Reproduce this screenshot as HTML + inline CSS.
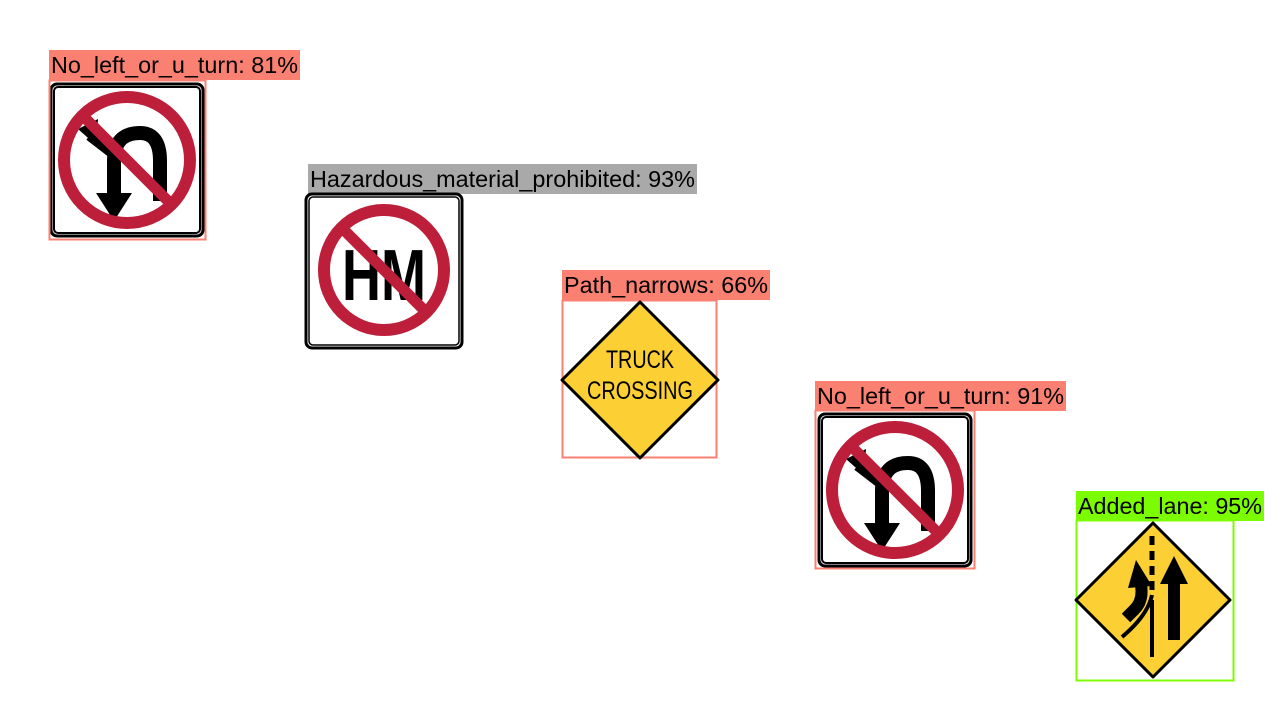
<!DOCTYPE html>
<html><head><style>body{margin:0;background:#fff}svg{display:block}text{font-family:"Liberation Sans",sans-serif;font-size:23px;fill:#000}</style></head><body>
<svg width="1280" height="720" viewBox="0 0 1280 720" xmlns="http://www.w3.org/2000/svg">
<defs>
<g id="nou">
<rect x="1" y="1" width="152" height="152" rx="6" fill="#fff" stroke="#000" stroke-width="3"/>
<rect x="4" y="4" width="146" height="146" rx="4" fill="none" stroke="#000" stroke-width="2"/>
<path d="M64 118 L64 78 Q64 50 90 50 Q110 50 110 78 L110 118" fill="none" stroke="#000" stroke-width="14"/>
<path d="M46 110 L82 110 L64 138 Z" fill="#000"/>
<path d="M66 72 L40 52" stroke="#000" stroke-width="12"/>
<path d="M28 46 L48 36 L46 62 Z" fill="#000"/>
<circle cx="77" cy="77" r="63" fill="none" stroke="#bd1e3a" stroke-width="12"/>
<line x1="33" y1="33" x2="121" y2="121" stroke="#bd1e3a" stroke-width="11"/>
</g>
</defs>
<!-- 1 -->
<rect x="49" y="50" width="251" height="30" fill="#fa8072"/>
<text x="51" y="73" textLength="247" lengthAdjust="spacingAndGlyphs">No_left_or_u_turn: 81%</text>
<use href="#nou" x="50" y="83"/>
<rect x="49.5" y="80.5" width="156" height="159" fill="none" stroke="#fa8072" stroke-width="2"/>
<!-- 2 -->
<rect x="308" y="164" width="389" height="30" fill="#a9a9a9"/>
<text x="310" y="187" textLength="385" lengthAdjust="spacingAndGlyphs">Hazardous_material_prohibited: 93%</text>
<rect x="306" y="194" width="156" height="154" rx="6" fill="#fff" stroke="#000" stroke-width="3"/>
<rect x="309" y="197" width="150" height="148" rx="4" fill="none" stroke="#000" stroke-width="1.5"/>
<text x="384" y="300" text-anchor="middle" textLength="84" lengthAdjust="spacingAndGlyphs" style="font-size:72px;font-weight:bold">HM</text>
<circle cx="384" cy="270" r="60" fill="none" stroke="#bd1e3a" stroke-width="12"/>
<line x1="342" y1="228" x2="426" y2="312" stroke="#bd1e3a" stroke-width="11"/>
<!-- 3 -->
<rect x="562" y="270" width="208" height="30" fill="#fa8072"/>
<text x="564" y="293" textLength="204" lengthAdjust="spacingAndGlyphs">Path_narrows: 66%</text>
<rect x="562.5" y="300.5" width="154" height="157" fill="none" stroke="#fa8072" stroke-width="2"/>
<path d="M640 302 L718 380 L640 458 L562 380 Z" fill="#fccf35" stroke="#000" stroke-width="3" stroke-linejoin="round"/>
<text x="640" y="368" text-anchor="middle" textLength="68" lengthAdjust="spacingAndGlyphs" style="font-size:25px">TRUCK</text>
<text x="640" y="399" text-anchor="middle" textLength="106" lengthAdjust="spacingAndGlyphs" style="font-size:25px">CROSSING</text>
<!-- 4 -->
<rect x="815" y="381" width="251" height="30" fill="#fa8072"/>
<text x="817" y="404" textLength="247" lengthAdjust="spacingAndGlyphs">No_left_or_u_turn: 91%</text>
<use href="#nou" x="818" y="413"/>
<rect x="815.5" y="410.5" width="159" height="158" fill="none" stroke="#fa8072" stroke-width="2"/>
<!-- 5 -->
<rect x="1076" y="491" width="188" height="30" fill="#7cfc00"/>
<text x="1078" y="514" textLength="184" lengthAdjust="spacingAndGlyphs">Added_lane: 95%</text>
<rect x="1076.5" y="520.5" width="157" height="160" fill="none" stroke="#7cfc00" stroke-width="2"/>
<path d="M1153 523 L1230 600 L1153 677 L1076 600 Z" fill="#fccf35" stroke="#000" stroke-width="3" stroke-linejoin="round"/>
<line x1="1152" y1="536" x2="1152" y2="590" stroke="#000" stroke-width="5" stroke-dasharray="9,6"/>
<path d="M1152 595 Q1148 615 1122 637" fill="none" stroke="#000" stroke-width="4"/>
<line x1="1152" y1="600" x2="1152" y2="657" stroke="#000" stroke-width="4"/>
<path d="M1126 618 L1134 610 Q1145 600 1140 580" fill="none" stroke="#000" stroke-width="12"/>
<path d="M1128 588 L1136 560 L1152 586 Z" fill="#000"/>
<line x1="1174" y1="580" x2="1174" y2="640" stroke="#000" stroke-width="12"/>
<path d="M1160 584 L1174 556 L1188 584 Z" fill="#000"/>
</svg>
</body></html>
